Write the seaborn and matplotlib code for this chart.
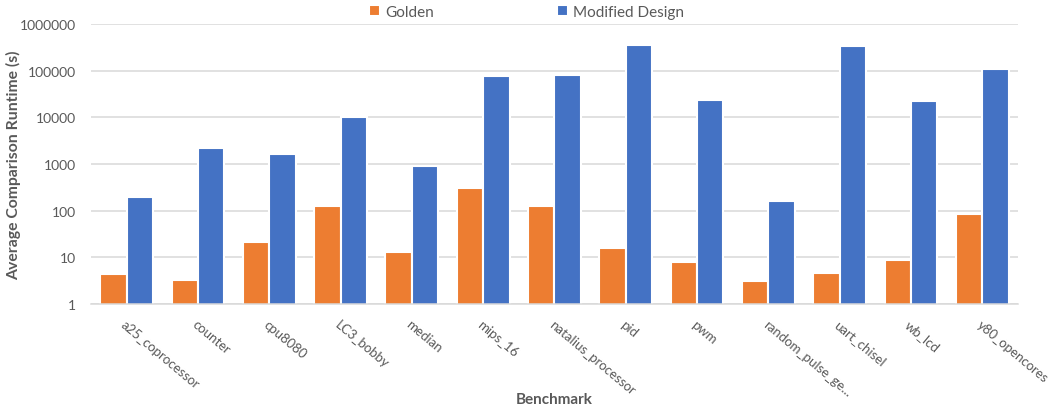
import matplotlib
matplotlib.use("Agg")
import matplotlib.pyplot as plt
from matplotlib.ticker import FixedLocator, FixedFormatter, NullLocator
import pandas as pd
import seaborn as sns

benchmarks = [
    "a25_coprocessor", "counter", "cpu8080", "LC3_bobby", "median", "mips_16",
    "natalius_processor", "pid", "pwm", "random_pulse_ge...", "uart_chisel",
    "wb_lcd", "y80_opencores",
]
golden = [4.3, 3.3, 21, 124, 13.1, 307, 124, 15.7, 8.0, 3.1, 4.5, 8.5, 85]
modified = [197, 2160, 1640, 10200, 890, 78000, 83000, 361000, 23200, 161,
            344000, 22400, 110000]
series_names = ["Golden", "Modified Design"]
y_ticks = [1, 10, 100, 1000, 10000, 100000, 1000000]

df = pd.DataFrame({
    "Benchmark": benchmarks * 2,
    "Series": [series_names[0]] * len(benchmarks) + [series_names[1]] * len(benchmarks),
    "Runtime": golden + modified,
})

sns.set_theme(style="white")
plt.rcParams["font.family"] = ["Lato", "DejaVu Sans"]

fig = plt.figure(figsize=(10.64, 4.10), dpi=100)
ax = fig.add_axes([0.0855, 0.257, 0.8712, 0.681])

palette = {"Golden": "#ED7D31", "Modified Design": "#4472C4"}
sns.barplot(data=df, x="Benchmark", y="Runtime", hue="Series", palette=palette,
            width=0.74, edgecolor="white", linewidth=1.5, saturation=1,
            ax=ax, legend=True)

ax.set_yscale("log")
ax.set_ylim(1, 1000000)
ax.set_xlim(-0.5, len(benchmarks) - 0.5)
ax.yaxis.set_major_locator(FixedLocator(y_ticks))
ax.yaxis.set_major_formatter(FixedFormatter([str(t) for t in y_ticks]))
ax.yaxis.set_minor_locator(NullLocator())

grid_c = "#D9D9D9"
ax.grid(axis="y", color=grid_c, linewidth=1.1)
ax.set_axisbelow(True)
for side in ["left", "right", "top"]:
    ax.spines[side].set_visible(False)
ax.spines["bottom"].set_color(grid_c)
ax.spines["bottom"].set_linewidth(1.1)

text_c = "#595959"
ax.tick_params(axis="both", length=0, colors=text_c)
ax.tick_params(axis="y", pad=10.5, labelsize=10)
ax.tick_params(axis="x", pad=10, labelsize=9.5)
for lbl in ax.get_xticklabels():
    lbl.set_rotation(-40)
    lbl.set_ha("left")
    lbl.set_va("top")
    lbl.set_rotation_mode("anchor")

ax.set_xlabel("Benchmark", fontsize=11, fontweight="bold", color=text_c)
ax.set_ylabel("Average Comparison Runtime (s)", fontsize=11.3, fontweight="bold",
              color=text_c)
ax.xaxis.set_label_coords(0.5, -0.315)
ax.yaxis.set_label_coords(-0.0755, 0.5)

handles, labels = ax.get_legend_handles_labels()
ax.get_legend().remove()
fig.legend(handles, labels, loc="center", bbox_to_anchor=(0.4950, 0.968), ncol=2,
           frameon=False, fontsize=11, handlelength=0.7, handleheight=0.7,
           handletextpad=0.35, columnspacing=8.05, labelcolor=text_c)

fig.savefig("out.png", dpi=100)
